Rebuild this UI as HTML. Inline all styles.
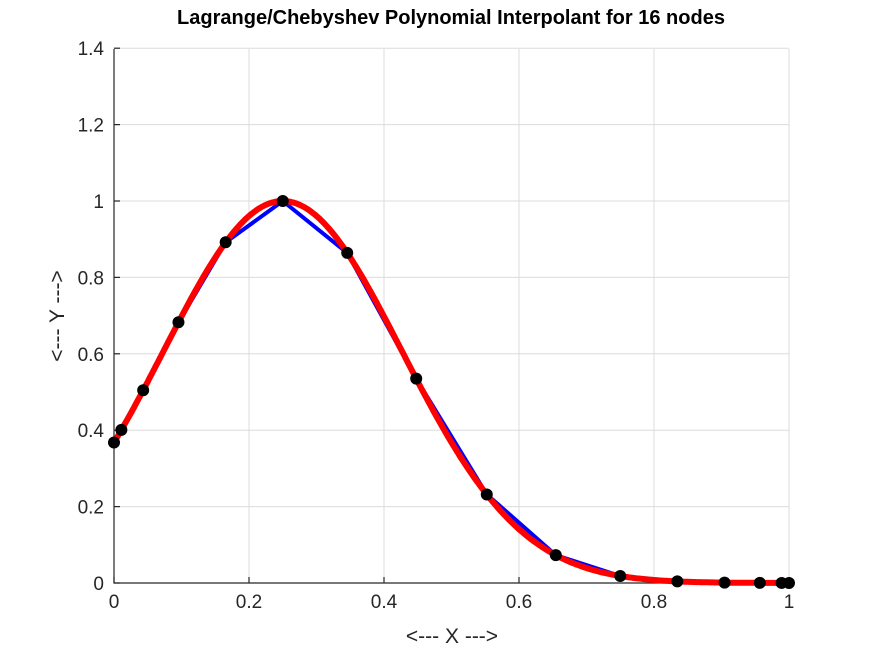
<!DOCTYPE html><html><head><style>body{margin:0;background:#fff}svg{display:block}text{font-family:"Liberation Sans",sans-serif}</style></head><body>
<svg id="s" width="873" height="655" xmlns="http://www.w3.org/2000/svg">
<rect width="873" height="655" fill="#fff"/>
<g id="grid" stroke="#dcdcdc" stroke-width="1"></g>
<g id="ax" stroke="#262626" stroke-width="1.2" fill="none"></g>
<g id="lbl" font-size="19" fill="#262626"></g>
<text x="451" y="24" font-size="20" font-weight="bold" text-anchor="middle" fill="#000">Lagrange/Chebyshev Polynomial Interpolant for 16 nodes</text>
<text x="452" y="643" font-size="21" text-anchor="middle" fill="#262626">&lt;--- X ---&gt;</text>
<text transform="translate(64,316) rotate(-90)" font-size="21" text-anchor="middle" fill="#262626">&lt;--- Y ---&gt;</text>
<path id="blue" fill="none" stroke="#0000ff" stroke-width="4" stroke-linejoin="round"/>
<path id="red" fill="none" stroke="#ff0000" stroke-width="6" stroke-linejoin="round"/>
<g id="dots" fill="#000"></g>
</svg>
<script>
var X=function(x){return 114+x*675},Y=function(y){return 583-y*382};
var f=function(x){return Math.exp(-16*(x-0.25)*(x-0.25))};
var g=document.getElementById('grid'),a=document.getElementById('ax'),l=document.getElementById('lbl'),ns="http://www.w3.org/2000/svg";
function el(p,t,at,txt){var e=document.createElementNS(ns,t);for(var k in at)e.setAttribute(k,at[k]);if(txt)e.textContent=txt;p.appendChild(e);return e}
for(var i=0;i<=5;i++){var x=X(i/5);el(g,'line',{x1:x,x2:x,y1:49,y2:583});el(a,'line',{x1:x,x2:x,y1:583,y2:577});el(l,'text',{x:x,y:608,'text-anchor':'middle'},i==0?'0':i==5?'1':(i/5).toFixed(1));}
for(var i=0;i<=7;i++){var y=Y(i*0.2);el(g,'line',{x1:114,x2:789,y1:y,y2:y});el(a,'line',{x1:114,x2:120,y1:y,y2:y});el(l,'text',{x:104,y:y+7,'text-anchor':'end'},i==0?'0':i==5?'1':(i*0.2).toFixed(1));}
el(a,'path',{d:'M114 49V583H789'});
var xs=[];for(var k=0;k<16;k++)xs.push(0.5-0.5*Math.cos(k*Math.PI/15));
var d='';xs.forEach(function(x,i){d+=(i?'L':'M')+X(x).toFixed(1)+' '+Y(f(x)).toFixed(1)});
document.getElementById('blue').setAttribute('d',d);
d='';for(var i=0;i<=400;i++){var x=i/400;d+=(i?'L':'M')+X(x).toFixed(1)+' '+Y(f(x)).toFixed(1)}
document.getElementById('red').setAttribute('d',d);
var dt=document.getElementById('dots');xs.forEach(function(x){el(dt,'circle',{cx:X(x),cy:Y(f(x)),r:6})});
</script></body></html>
